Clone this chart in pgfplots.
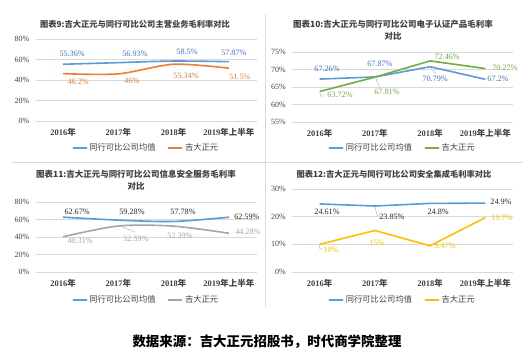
\documentclass[border=0pt]{standalone}
\usepackage{fontspec}
\setmainfont{Liberation Serif}
\newfontfamily\cjk{Noto Sans CJK SC}
\usepackage{pgfplots}
\pgfplotsset{compat=1.18}
\usepackage{pgfplotstable}
\definecolor{cblue}{HTML}{5B9BD5}
\definecolor{lblue}{HTML}{4472C4}
\definecolor{corange}{HTML}{ED7D31}
\definecolor{cgreen}{HTML}{70AD47}
\definecolor{cgrey}{HTML}{A5A5A5}
\definecolor{cyellow}{HTML}{FFC000}
\definecolor{gridc}{HTML}{D9D9D9}
\definecolor{tickc}{HTML}{404040}
\definecolor{ldark}{HTML}{262626}
\definecolor{leadc}{HTML}{BFBFBF}

\pgfplotstableread{
x a adx ady b bdx bdy
0 55.36 9 10.3 46.2 15 -8.4
1 56.93 16.6 8.6 46 13.6 -7.1
2 58.5 13.4 9 55.34 12.4 -11.7
3 57.87 5 8.7 51.5 11 -8.8
}\tA
\pgfplotstableread{
x a adx ady b bdx bdy
0 67.26 7.4 10.1 63.72 20.4 -3.5
1 67.87 5 13 67.81 12 -14.8
2 70.79 5 -12.3 72.46 17 3.9
3 67.2 12.6 0.3 70.27 19.6 0.6
}\tB
\pgfplotstableread{
x a adx ady b bdx bdy
0 62.67 14 5.2 40.31 17 -4.3
1 59.28 13.6 8.1 52.59 17.6 -13
2 57.78 9.4 9.4 52.39 6.4 -9.8
3 62.59 18 0.2 44.28 19 1.3
}\tC
\pgfplotstableread{
x a adx ady b bdx bdy
0 24.61 7.4 -8.1 10 11.4 -5.7
1 23.85 17 -11 15 2 -12.5
2 24.8 8 -8.6 9.47 15 -0.2
3 24.9 15.6 1.1 19.7 16.6 -0.5
}\tD

\pgfplotsset{
  panel/.style={
    scale only axis, width=221bp, clip=false,
    xmin=-0.5, xmax=3.5, xtick={0,1,2,3},
    xticklabels={{2016\cjk 年},{2017\cjk 年},{2018\cjk 年},{2019\cjk 年上半年}},
    axis line style={draw=none}, major tick length=0pt,
    ymajorgrids, grid style={color=gridc, line width=0.75bp},
    xticklabel style={font=\bfseries\fontsize{8.5}{9}\selectfont, text=tickc, inner sep=0pt, yshift=-7bp},
    yticklabel style={font=\fontsize{8}{9}\selectfont, text=tickc, inner sep=0pt, xshift=-6bp},
    yticklabel={\pgfmathprintnumber{\tick}\%},
    legend columns=2,
    legend style={at={(0.5,0)}, anchor=center, yshift=-#1, draw=none, fill=none,
      font=\cjk\fontsize{8.3}{9}\selectfont, text=tickc, inner sep=0pt,
      /tikz/every even column/.append style={column sep=10bp}},
    legend image code/.code={\draw[##1, line width=1.6bp] (0bp,0bp) -- (14bp,0bp);},
    /pgf/number format/assume math mode=true,
  },
  lab/.style={nodes near coords={\pgfmathprintnumber{\pgfplotspointmeta}\%}, point meta=y,
    every node near coord/.append style={anchor=center, font=\fontsize{8.2}{9}\selectfont,
      text=#1, xshift=\dx bp, yshift=\dy bp, inner sep=0pt}},
  va/.style={visualization depends on={\thisrow{adx}\as\dx}, visualization depends on={\thisrow{ady}\as\dy}},
  vb/.style={visualization depends on={\thisrow{bdx}\as\dx}, visualization depends on={\thisrow{bdy}\as\dy}},
}

\begin{document}
\begin{tikzpicture}[x=1bp,y=1bp]
\path[use as bounding box, fill=white] (0,0) rectangle (523,354);
\draw[gridc, line width=0.75bp] (265,340) -- (265,47);
\draw[gridc, line width=0.75bp] (12,192) -- (523,192);

% leader lines of data labels
\begin{scope}[leadc, line width=0.6bp]
\draw (376,275) -- (380,266);
\draw (431,286) -- (436,280);
\draw (320,261) -- (321,258) -- (324,258);
\draw (120,128) -- (135,122);
\draw (375,147) -- (377,139) -- (381,137);
\draw (319,109) -- (320,105) -- (322.5,105);
\end{scope}

% Panel 1
\node[font=\cjk\bfseries\fontsize{8.3}{10}\selectfont, text=tickc] at (135,330) {图表9:吉大正元与同行可比公司主营业务毛利率对比};
\begin{axis}[panel=27bp, at={(35.5bp,233bp)}, anchor=south west, height=82bp,
  ymin=0, ymax=80, ytick={0,20,40,60,80}]
\addplot[cblue, line width=1.6bp, smooth, tension=0.5, va, lab=lblue] table[x=x,y=a] {\tA};
\addlegendentry{同行可比公司均值}
\addplot[corange, line width=1.6bp, smooth, tension=0.5, vb, lab=corange] table[x=x,y=b] {\tA};
\addlegendentry{吉大正元}
\end{axis}

% Panel 2
\node[font=\cjk\bfseries\fontsize{8.5}{12}\selectfont, text=tickc, align=center] at (393,324) {图表10:吉大正元与同行可比公司电子认证产品毛利率\\对比};
\begin{axis}[panel=26bp, at={(292bp,232bp)}, anchor=south west, height=70bp,
  ymin=55, ymax=75, ytick={55,60,65,70,75}]
\addplot[cblue, line width=1.6bp, va, lab=lblue] table[x=x,y=a] {\tB};
\addlegendentry{同行可比公司均值}
\addplot[cgreen, line width=1.6bp, vb, lab=cgreen] table[x=x,y=b] {\tB};
\addlegendentry{吉大正元}
\end{axis}

% Panel 3
\node[font=\cjk\bfseries\fontsize{8.5}{12}\selectfont, text=tickc, align=center] at (136,174) {图表11:吉大正元与同行可比公司信息安全服务毛利率\\对比};
\begin{axis}[panel=28bp, at={(35.5bp,82bp)}, anchor=south west, height=70bp,
  ymin=0, ymax=80, ytick={0,20,40,60,80}]
\addplot[cblue, line width=1.6bp, smooth, tension=0.5, va, lab=ldark] table[x=x,y=a] {\tC};
\addlegendentry{同行可比公司均值}
\addplot[cgrey, line width=1.6bp, smooth, tension=0.5, vb, lab=cgrey] table[x=x,y=b] {\tC};
\addlegendentry{吉大正元}
\end{axis}

% Panel 4
\node[font=\cjk\bfseries\fontsize{8.3}{10}\selectfont, text=tickc] at (394,180) {图表12:吉大正元与同行可比公司安全集成毛利率对比};
\begin{axis}[panel=28bp, at={(292bp,82bp)}, anchor=south west, height=83bp,
  ymin=0, ymax=30, ytick={0,10,20,30}]
\addplot[cblue, line width=1.6bp, va, lab=ldark] table[x=x,y=a] {\tD};
\addlegendentry{同行可比公司均值}
\addplot[cyellow, line width=1.6bp, vb, lab=cyellow] table[x=x,y=b] {\tD};
\addlegendentry{吉大正元}
\end{axis}

\node[font=\cjk\bfseries\fontsize{13.5}{15}\selectfont] at (267,12) {数据来源：吉大正元招股书，时代商学院整理};
\end{tikzpicture}
\end{document}
